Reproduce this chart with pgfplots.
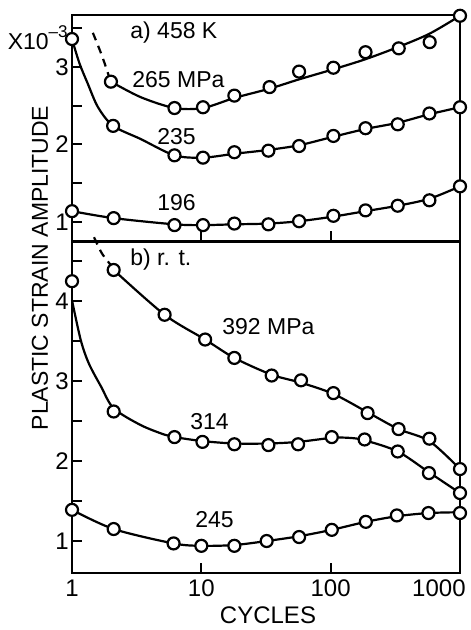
\documentclass[border=0pt]{standalone}
\usepackage{fontspec}
\setmainfont{Liberation Sans}
\usepackage{pgfplots}
\pgfplotsset{compat=1.18}
\pgfplotsset{
  mypanel/.style={
    scale only axis, width=194pt, xmin=1, xmax=1000,
    axis line style={line width=1.4pt}, clip=false,
    xminorticks=false,
    tick style={line width=1pt, black},
    major tick length=5pt, minor tick length=5pt, tick align=inside,
    ytick pos=left, xtick pos=bottom,
    /pgf/number format/assume math mode=true,
    ticklabel style={font=\fontsize{12}{14}\selectfont},
    yticklabel style={inner sep=1.5pt},
  },
  crv/.style={black, line width=1.1pt, smooth, tension=0.5, no marks},
  dsh/.style={black, line width=1.1pt, smooth, dashed, dash pattern=on 4pt off 3pt, no marks},
  pts/.style={only marks, mark=*, mark size=3pt, mark options={fill=white, draw=black, line width=1.1pt, solid}},
}
\begin{document}
\begin{tikzpicture}[font=\fontsize{11.5}{13}\selectfont]
\useasboundingbox (0,0) rectangle (235pt,-315pt);
% ---------- top panel a) 458 K
\begin{axis}[xmode=log, mypanel, at={(36pt,-7.5pt)}, anchor=north west, height=113pt,
  xtick={10,100}, xticklabels={},
  ymin=0.755, ymax=3.67, ytick={1,2,3}, yticklabels={1,2,3}, minor ytick={1.5,2.5,3.5}]
% 265 MPa
\addplot[dsh] coordinates {(1.45,3.44) (1.7,3.15) (1.95,2.86)};
\addplot[crv] coordinates {(2,2.81) (3.4,2.61) (6.2,2.47) (10.3,2.47) (18,2.60) (33.7,2.72) (57,2.84) (105,2.97) (186,3.10) (336,3.26) (583,3.43) (1000,3.66)};
\addplot[pts] coordinates {(2,2.81) (6.2,2.47) (10.3,2.48) (18,2.63) (33.7,2.74) (57,2.94) (105,2.99) (186,3.19) (336,3.24) (583,3.32) (1000,3.66)};
% 235 MPa
\addplot[crv] coordinates {(1,3.36) (1.14,3.05) (1.32,2.79) (1.59,2.48) (2.08,2.24) (3.4,2.07) (6.2,1.86) (10.3,1.83) (18,1.88) (33,1.93) (57,1.99) (105,2.10) (186,2.20) (330,2.28) (580,2.39) (1000,2.48)};
\addplot[pts] coordinates {(1,3.36) (2.08,2.24) (6.2,1.86) (10.3,1.83) (18,1.90) (33,1.92) (57,1.98) (105,2.11) (186,2.21) (330,2.26) (580,2.40) (1000,2.48)};
% 196 MPa
\addplot[crv] coordinates {(1,1.14) (2.1,1.05) (6.2,0.97) (10.3,0.96) (18,0.97) (33,0.98) (57,1.01) (105,1.07) (186,1.14) (330,1.21) (580,1.30) (1000,1.46)};
\addplot[pts] coordinates {(1,1.14) (2.1,1.05) (6.2,0.96) (10.3,0.96) (18,0.98) (33,0.97) (57,1.01) (105,1.08) (186,1.15) (330,1.21) (580,1.28) (1000,1.46)};
\end{axis}
% ---------- bottom panel b) r.t.
\begin{axis}[xmode=log, mypanel, at={(36pt,-121pt)}, anchor=north west, height=165.5pt,
  ymin=0.6, ymax=4.74, ytick={1,2,3,4}, yticklabels={1,2,3,4}, minor ytick={1.5,2.5,3.5,4.5},
  xtick={1,10,100,1000}, xticklabels={1,10,100,}]
% 392 MPa
\addplot[dsh] coordinates {(1.48,4.80) (1.7,4.60) (2.0,4.45)};
\addplot[crv] coordinates {(2.1,4.39) (5.2,3.83) (10.7,3.52) (18,3.29) (35,3.08) (59,2.98) (105,2.84) (193,2.61) (335,2.40) (580,2.25) (1000,1.90)};
\addplot[pts] coordinates {(2.1,4.39) (5.2,3.83) (10.7,3.52) (18,3.29) (35,3.07) (59,3.01) (105,2.85) (193,2.60) (335,2.40) (580,2.28) (1000,1.90)};
% 314 MPa
\addplot[crv] coordinates {(1,4.01) (1.17,3.51) (1.35,3.22) (1.68,2.93) (2.1,2.66) (3.4,2.45) (5.2,2.33) (6.2,2.30) (10.2,2.25) (18,2.22) (33,2.22) (56,2.24) (102,2.29) (140,2.29) (183,2.26) (330,2.12) (575,1.86) (1000,1.60)};
\addplot[pts] coordinates {(1,4.25) (2.1,2.62) (6.2,2.30) (10.2,2.24) (18,2.21) (33,2.20) (56,2.21) (102,2.30) (183,2.27) (330,2.12) (575,1.85) (1000,1.60)};
% 245 MPa
\addplot[crv] coordinates {(1,1.39) (2.1,1.15) (6.1,0.97) (10,0.94) (18,0.95) (32,1.0) (57,1.06) (102,1.14) (187,1.24) (325,1.31) (570,1.35) (1000,1.36)};
\addplot[pts] coordinates {(1,1.39) (2.1,1.15) (6.1,0.97) (10,0.94) (18,0.94) (32,1.0) (57,1.05) (102,1.14) (187,1.24) (325,1.32) (570,1.35) (1000,1.35)};
\end{axis}
% ---------- text
\node[anchor=east, inner sep=0pt, font=\fontsize{11.5}{14}\selectfont] at (34pt,-19pt) {X10\raisebox{1.0ex}{\fontsize{8.5}{9}\selectfont \textendash3}};
\node[anchor=west, inner sep=0pt] at (65pt,-16.5pt) {a) 458 K};
\node[anchor=west, inner sep=0pt] at (66pt,-40pt) {265 MPa};
\node[anchor=west, inner sep=0pt] at (78.5pt,-68.5pt) {235};
\node[anchor=west, inner sep=0pt] at (78.5pt,-101.5pt) {196};
\node[anchor=west, inner sep=0pt] at (65pt,-130pt) {b) r. t.};
\node[anchor=west, inner sep=0pt] at (111pt,-163.5pt) {392 MPa};
\node[anchor=west, inner sep=0pt] at (95pt,-211pt) {314};
\node[anchor=west, inner sep=0pt] at (97.5pt,-260pt) {245};
\node[anchor=north east, inner sep=0pt, font=\fontsize{12}{14}\selectfont] at (233pt,-289.5pt) {1000};
\node[font=\fontsize{12}{14}\selectfont] at (134pt,-307.5pt) {CYCLES};
\node[rotate=90, font=\fontsize{11.5}{13}\selectfont] at (20pt,-134pt) {PLASTIC STRAIN AMPLITUDE};
\end{tikzpicture}
\end{document}
